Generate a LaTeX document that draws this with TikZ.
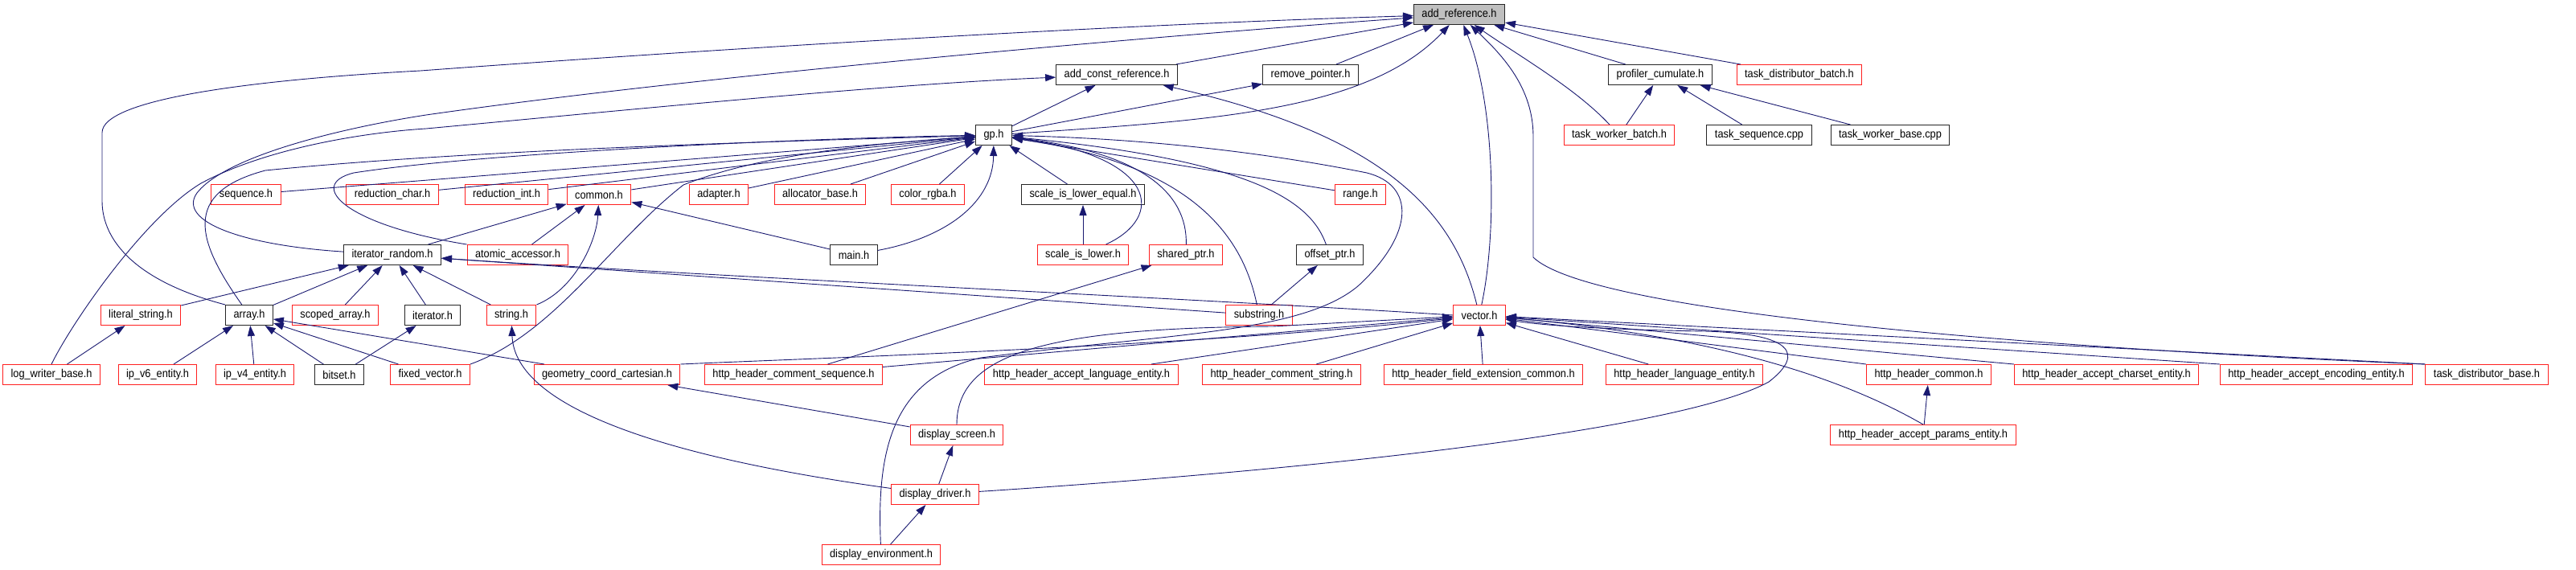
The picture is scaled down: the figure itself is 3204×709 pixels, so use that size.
\documentclass[tikz,border=0pt]{standalone}
\usepackage{fontspec}
\setmainfont[FakeStretch=0.9]{Liberation Sans}
\usepackage{xcolor}
\usetikzlibrary{arrows.meta}
\definecolor{edgeblue}{HTML}{191970}
\definecolor{boxred}{HTML}{FF2020}
\definecolor{rootgray}{HTML}{BFBFBF}

\begin{document}
\begin{tikzpicture}[
  x=1pt, y=-1pt,
  every node/.style={draw, fill=white, minimum height=25pt, inner xsep=10pt, inner ysep=2pt, line width=1pt, font=\fontsize{14.2}{16}\selectfont},
  blk/.style={draw=black!85},
  trunc/.style={draw=boxred},
  root/.style={draw=black!85, fill=rootgray},
  arrow/.style={-{Triangle[length=13pt,width=9pt]}, draw=edgeblue, line width=0.9pt}
]
  \useasboundingbox (0,0) rectangle (3204,709);

  \node[root]  (addref)   at (1815,18)  {add\_reference.h};

  \node[blk]   (addconst) at (1389,93)  {add\_const\_reference.h};
  \node[blk]   (rmptr)    at (1630,93)  {remove\_pointer.h};
  \node[blk]   (profcum)  at (2065,93)  {profiler\_cumulate.h};
  \node[trunc] (tdbatch)  at (2238,93)  {task\_distributor\_batch.h};

  \node[blk]   (gp)       at (1236,168) {gp.h};
  \node[trunc] (twbatch)  at (2014,168) {task\_worker\_batch.h};
  \node[blk]   (tseq)     at (2188,168) {task\_sequence.cpp};
  \node[blk]   (twbase)   at (2351,168) {task\_worker\_base.cpp};

  \node[trunc] (seq)      at (306,242)  {sequence.h};
  \node[trunc] (redchar)  at (488,242)  {reduction\_char.h};
  \node[trunc] (redint)   at (630,242)  {reduction\_int.h};
  \node[trunc] (common)   at (745,242)  {common.h};
  \node[trunc] (adapter)  at (894,242)  {adapter.h};
  \node[trunc] (allocb)   at (1020,242) {allocator\_base.h};
  \node[trunc] (rgba)     at (1154,242) {color\_rgba.h};
  \node[blk]   (sile)     at (1347,242) {scale\_is\_lower\_equal.h};
  \node[trunc] (range)    at (1692,242) {range.h};

  \node[blk]   (itrand)   at (488,317)  {iterator\_random.h};
  \node[trunc] (atomic)   at (644,317)  {atomic\_accessor.h};
  \node[blk]   (mainh)    at (1062,317) {main.h};
  \node[trunc] (sil)      at (1347,317) {scale\_is\_lower.h};
  \node[trunc] (shptr)    at (1475,317) {shared\_ptr.h};
  \node[blk]   (offptr)   at (1654,317) {offset\_ptr.h};

  \node[trunc] (litstr)   at (175,392)  {literal\_string.h};
  \node[blk]   (arrayh)   at (310,392)  {array.h};
  \node[trunc] (scarr)    at (417,392)  {scoped\_array.h};
  \node[blk]   (iter)     at (538,392)  {iterator.h};
  \node[trunc] (stringh)  at (636,392)  {string.h};
  \node[trunc] (substr)   at (1566,392) {substring.h};
  \node[trunc] (vectorh)  at (1840,392) {vector.h};

  \node[trunc] (logwb)    at (64,466)   {log\_writer\_base.h};
  \node[trunc] (ipv6)     at (196,466)  {ip\_v6\_entity.h};
  \node[trunc] (ipv4)     at (317,466)  {ip\_v4\_entity.h};
  \node[blk]   (bitset)   at (422,466)  {bitset.h};
  \node[trunc] (fixvec)   at (535,466)  {fixed\_vector.h};
  \node[trunc] (geomcc)   at (755,466)  {geometry\_coord\_cartesian.h};
  \node[trunc] (hhcseq)   at (987,466)  {http\_header\_comment\_sequence.h};
  \node[trunc] (hhalang)  at (1345,466) {http\_header\_accept\_language\_entity.h};
  \node[trunc] (hhcstr)   at (1594,466) {http\_header\_comment\_string.h};
  \node[trunc] (hhfext)   at (1845,466) {http\_header\_field\_extension\_common.h};
  \node[trunc] (hhlang)   at (2095,466) {http\_header\_language\_entity.h};
  \node[trunc] (hhcommon) at (2399,466) {http\_header\_common.h};
  \node[trunc] (hhchar)   at (2620,466) {http\_header\_accept\_charset\_entity.h};
  \node[trunc] (hhenc)    at (2881,466) {http\_header\_accept\_encoding\_entity.h};
  \node[trunc] (tdbase)   at (3093,466) {task\_distributor\_base.h};

  \node[trunc] (dscreen)  at (1190,541) {display\_screen.h};
  \node[trunc] (hhparams) at (2392,541) {http\_header\_accept\_params\_entity.h};
  \node[trunc] (ddriver)  at (1163,615) {display\_driver.h};
  \node[trunc] (denv)     at (1096,690) {display\_environment.h};

  \draw[arrow] (addconst) -- (addref);
  \draw[arrow] (rmptr) -- (addref);
  \draw[arrow] (gp) .. controls (1500,150) and (1700,140) .. (addref);
  \draw[arrow] (profcum) -- (addref);
  \draw[arrow] (tdbatch) -- (addref);
  \draw[arrow] (twbatch) .. controls (1960,110) and (1890,70) .. (addref);
  \draw[arrow] (vectorh) .. controls (1862,290) and (1860,130) .. (addref);
  \draw[arrow] (tdbase.north west) .. controls (2700,440) and (1990,400) .. (1907,320) -- (1907,170) .. controls (1907,110) and (1870,70) .. (addref);
  \draw[arrow] (itrand) .. controls (300,305) and (220,275) .. (245,240) .. controls (280,195) and (420,160) .. (530,143) .. controls (900,90) and (1500,40) .. (addref);
  \draw[arrow] (arrayh.north west) .. controls (170,350) and (127,300) .. (127,250) -- (127,165) .. controls (127,125) and (300,100) .. (523,88) .. controls (900,60) and (1400,30) .. (addref);

  \draw[arrow] (gp) -- (addconst);
  \draw[arrow] (gp) -- (rmptr);
  \draw[arrow] (vectorh) .. controls (1810,270) and (1730,170) .. (addconst);
  \draw[arrow] (logwb.north) .. controls (90,400) and (180,270) .. (250,228) .. controls (330,185) and (450,165) .. (530,160) .. controls (800,135) and (1100,105) .. (addconst);

  \draw[arrow] (twbatch) -- (profcum);
  \draw[arrow] (tseq) -- (profcum);
  \draw[arrow] (twbase) -- (profcum);

  \draw[arrow] (seq) -- (gp);
  \draw[arrow] (redchar) -- (gp);
  \draw[arrow] (redint) -- (gp);
  \draw[arrow] (common) -- (gp);
  \draw[arrow] (adapter) -- (gp);
  \draw[arrow] (allocb) -- (gp);
  \draw[arrow] (rgba) -- (gp);
  \draw[arrow] (sile) -- (gp);
  \draw[arrow] (range) -- (gp);
  \draw[arrow] (mainh) .. controls (1180,295) and (1235,250) .. (gp);
  \draw[arrow] (atomic.north west) .. controls (430,280) and (380,230) .. (440,215) .. controls (600,190) and (1000,172) .. (gp);
  \draw[arrow] (arrayh) .. controls (245,300) and (225,240) .. (330,212) .. controls (600,185) and (1000,175) .. (gp);
  \draw[arrow] (fixvec.north east) .. controls (690,415) and (760,300) .. (850,230) .. controls (950,190) and (1100,178) .. (gp);
  \draw[arrow] (sil) .. controls (1450,270) and (1440,195) .. (gp);
  \draw[arrow] (shptr) .. controls (1477,240) and (1420,190) .. (gp);
  \draw[arrow] (substr) .. controls (1545,290) and (1480,205) .. (gp);
  \draw[arrow] (offptr) .. controls (1630,250) and (1560,200) .. (gp);
  \draw[arrow] (denv) .. controls (1090,560) and (1110,470) .. (1220,445) .. controls (1450,415) and (1620,415) .. (1690,355) .. controls (1760,290) and (1760,230) .. (1700,215) .. controls (1550,185) and (1400,172) .. (gp);

  \draw[arrow] (itrand) -- (common);
  \draw[arrow] (atomic) -- (common);
  \draw[arrow] (stringh.north east) .. controls (715,360) and (742,300) .. (common);
  \draw[arrow] (mainh) -- (common);
  \draw[arrow] (sil) -- (sile);

  \draw[arrow] (litstr) -- (itrand);
  \draw[arrow] (arrayh) -- (itrand);
  \draw[arrow] (scarr) -- (itrand);
  \draw[arrow] (iter) -- (itrand);
  \draw[arrow] (stringh) -- (itrand);
  \draw[arrow] (substr) -- (itrand);
  \draw[arrow] (vectorh.west) .. controls (1500,372) and (900,345) .. (itrand);

  \draw[arrow] (ipv6) -- (arrayh);
  \draw[arrow] (ipv4) -- (arrayh);
  \draw[arrow] (bitset) -- (arrayh);
  \draw[arrow] (fixvec) -- (arrayh);
  \draw[arrow] (geomcc) -- (arrayh);
  \draw[arrow] (logwb) -- (litstr);
  \draw[arrow] (bitset) -- (iter);
  \draw[arrow] (substr) -- (offptr);
  \draw[arrow] (hhcseq) -- (shptr);

  \draw[arrow] (ddriver) .. controls (800,565) and (640,500) .. (stringh);
  \draw[arrow] (ddriver) -- (dscreen);
  \draw[arrow] (denv) -- (ddriver);
  \draw[arrow] (dscreen) -- (geomcc);

  \draw[arrow] (geomcc.north east) .. controls (1000,446) and (1500,430) .. (vectorh);
  \draw[arrow] (hhcseq) -- (vectorh);
  \draw[arrow] (hhalang) -- (vectorh);
  \draw[arrow] (hhcstr) -- (vectorh);
  \draw[arrow] (hhfext) -- (vectorh);
  \draw[arrow] (hhlang) -- (vectorh);
  \draw[arrow] (hhcommon.north west) -- (vectorh);
  \draw[arrow] (hhchar.north west) -- (vectorh);
  \draw[arrow] (hhenc.north west) -- (vectorh);
  \draw[arrow] (tdbase.north west) -- (vectorh);
  \draw[arrow] (hhparams) -- (hhcommon);
  \draw[arrow] (hhparams.north) .. controls (2300,475) and (2150,420) .. (vectorh);
  \draw[arrow] (dscreen) .. controls (1190,440) and (1300,408) .. (1583,406) -- (vectorh);
  \draw[arrow] (ddriver) .. controls (1700,580) and (2100,530) .. (2200,475) .. controls (2245,440) and (2230,415) .. (2120,412) .. controls (2000,410) and (1920,405) .. (vectorh);
\end{tikzpicture}
\end{document}
